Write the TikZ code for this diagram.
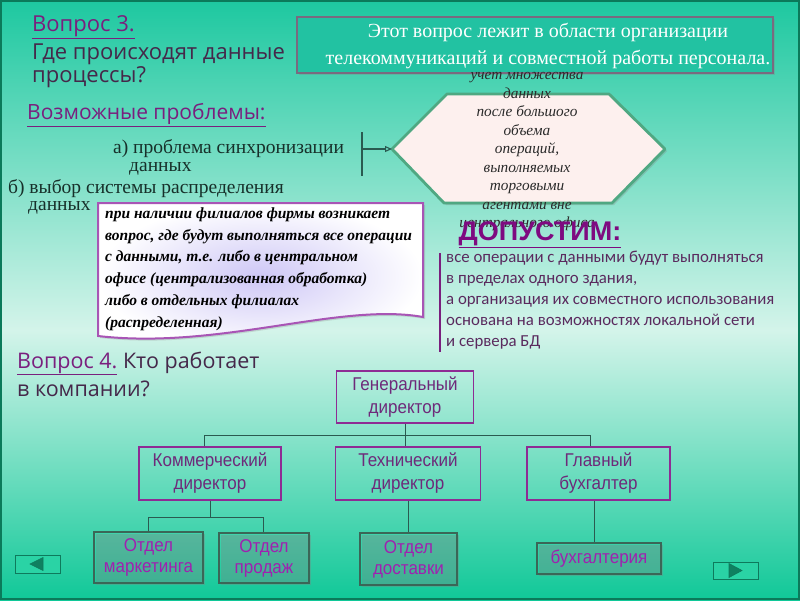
\documentclass[tikz,border=0pt]{standalone}
\usepackage{fontspec}
\setmainfont{Liberation Serif}
\newfontfamily\handfont{Open Sans}
\newfontfamily\calfont{Carlito}
\newfontfamily\narrowfont[FakeStretch=0.92]{Liberation Sans}
\newfontfamily\heavyfont{Liberation Sans}
\usetikzlibrary{arrows.meta,shadows}
\definecolor{bgtop}{HTML}{1DC8A0}
\definecolor{bgmid}{HTML}{D4F4EA}
\definecolor{bgbot}{HTML}{10C898}
\definecolor{framec}{HTML}{0B7A5A}
\definecolor{purp}{HTML}{7A1F7E}
\definecolor{dpurp}{HTML}{45284A}
\definecolor{darkt}{HTML}{17302A}
\definecolor{topfill}{HTML}{22C2A2}
\definecolor{topborder}{HTML}{7A6A80}
\definecolor{hexfill}{HTML}{FDF0EE}
\definecolor{hexborder}{HTML}{4FA882}
\definecolor{hextext}{HTML}{2A2A2A}
\definecolor{lav}{HTML}{CEC7F6}
\definecolor{docpurp}{HTML}{A855B5}
\definecolor{dopc}{HTML}{7E0A80}
\definecolor{rtext}{HTML}{5A2A5E}
\definecolor{orgpurp}{HTML}{8E2B94}
\definecolor{orgtext}{HTML}{6E2A7A}
\definecolor{depborder}{HTML}{3B6657}
\definecolor{deptext}{HTML}{A020B0}
\definecolor{connc}{HTML}{2A5A50}
\definecolor{navfill}{HTML}{2AD3A5}
\definecolor{navborder}{HTML}{0E7A5C}
\definecolor{navtri}{HTML}{0F8060}
\begin{document}
\begin{tikzpicture}[x=1pt,y=-1pt,
  conn/.style={draw=connc,line width=0.9pt},
  orgbox/.style={draw=orgpurp,line width=1.6pt,text=orgtext,font=\narrowfont\fontsize{18.5}{23}\selectfont,align=center,inner sep=0pt},
  depbox/.style={draw=depborder,line width=1.6pt,text=deptext,font=\narrowfont\fontsize{18.5}{21}\selectfont,align=center,inner sep=0pt,
     drop shadow={shadow xshift=1.5pt,shadow yshift=-1.5pt,opacity=0.35}},
  navbtn/.style={draw=navborder,fill=navfill,line width=1pt,minimum width=45pt,minimum height=18pt,inner sep=0pt},
  plain/.style={inner sep=0pt},
  probl/.style={plain,anchor=west,text=darkt,font=\fontsize{19.5}{18}\selectfont,align=left}
]
\useasboundingbox (0,0) rectangle (800,600);
% background
\shade[top color=bgtop,bottom color=bgmid] (0,0) rectangle (800,330.5);
\shade[top color=bgmid,bottom color=bgbot] (0,330) rectangle (800,600);
\draw[framec,line width=2pt] (1,1) rectangle (799,599);

% question 3
\node[plain,anchor=west,text=purp,font=\handfont\fontsize{22}{24}\selectfont] (q3) at (32,27) {\underline{Вопрос 3.}};
\node[plain,anchor=west,text=dpurp,font=\handfont\fontsize{22}{23}\selectfont,align=left] (q3b) at (32,66) {Где происходят данные\\процессы?};

% top box
\node[draw=topborder,fill=topfill,line width=1.5pt,minimum width=476pt,minimum height=56pt,
  drop shadow={shadow xshift=2pt,shadow yshift=-2pt,opacity=0.3}] (topbox) at (535,45) {};
\node[plain,text=white,font=\fontsize{20}{27}\selectfont,align=center] (toptxt) at (548,46) {Этот вопрос лежит в области организации\\телекоммуникаций и совместной работы персонала.};

% possible problems
\node[plain,anchor=west,text=purp,font=\handfont\fontsize{21}{24}\selectfont] (pp) at (27,115) {\underline{Возможные проблемы:}};
\node[probl] (pa) at (113,157) {а) проблема синхронизации\\\hspace*{16pt}данных};
\node[probl] (pb) at (8,189) {б) выбор системы распределения};
\node[probl] (pb2) at (28,208) {данных};

% hexagon
\coordinate (hexL) at (392,149);
\coordinate (hexTL) at (447,94);
\coordinate (hexTR) at (609,94);
\coordinate (hexR) at (665,149);
\coordinate (hexBR) at (612,203);
\coordinate (hexBL) at (444,203);
\draw[draw=hexborder,fill=hexfill,line width=2.8pt,line join=round,
  drop shadow={shadow xshift=2pt,shadow yshift=-2pt,opacity=0.3}]
  (hexL) -- (hexTL) -- (hexTR) -- (hexR) -- (hexBR) -- (hexBL) -- cycle;
\node[plain,text=hextext,font=\itshape\fontsize{15.3}{18.5}\selectfont,align=center] (hextxt) at (527,152)
  {учет множества\\данных\\после большого\\объема\\операций,\\выполняемых\\торговыми\\агентами вне\\центрального офиса};

% bracket
\coordinate (brT) at (362,132);
\coordinate (brB) at (362,176);
\coordinate (brM) at (362,149);
\draw[connc,line width=1.1pt] (brT) -- (brB);
\draw[connc,line width=1.1pt,-{Triangle[open,length=7pt,width=6pt]}] (brM) -- (hexL);

% document shape
\coordinate (dTL) at (98,203);
\coordinate (dTR) at (423,203);
\coordinate (dBR) at (423,317);
\coordinate (dBL) at (98,336);
\shadedraw[inner color=lav,outer color=white,draw=docpurp,line width=2pt,
  drop shadow={shadow xshift=2pt,shadow yshift=-2pt,opacity=0.25}]
  (dTL) -- (dTR) -- (dBR) .. controls (340,302) and (220,350) .. (dBL) -- cycle;
\draw[white,line width=0.5pt,opacity=0.7] (100,205) -- (421,205) -- (421,315);
\node[plain,anchor=west,text=black,font=\bfseries\itshape\fontsize{15.5}{21.8}\selectfont,align=left] (doctxt) at (105,269)
  {при наличии филиалов фирмы возникает\\вопрос, где будут выполняться все операции\\с данными, т.е. либо в центральном\\офисе (централизованная обработка)\\либо в отдельных филиалах\\(распределенная)};

% ДОПУСТИМ
\node[plain,text=dopc,font=\heavyfont\bfseries\fontsize{27}{30}\selectfont] (dop) at (540,235) {\underline{ДОПУСТИМ:}};
\coordinate (barT) at (440,253);
\coordinate (barB) at (440,352);
\draw[purp,line width=1.5pt] (barT) -- (barB);
\node[plain,anchor=west,text=rtext,font=\calfont\fontsize{16.8}{21}\selectfont,align=left] (rt) at (446,300)
  {все операции с данными будут выполняться\\в пределах одного здания,\\а организация их совместного использования\\основана на возможностях локальной сети\\и сервера БД};

% question 4
\node[plain,anchor=west,text=dpurp,font=\handfont\fontsize{21.5}{28}\selectfont,align=left] (q4) at (17,374)
  {{\color{purp}\underline{Вопрос 4.}} Кто работает\\в компании?};

% org chart
\node[orgbox,minimum width=137pt,minimum height=52pt] (gen) at (405,397) {Генеральный\\директор};
\node[orgbox,minimum width=142pt,minimum height=53pt] (kom) at (210,473.5) {Коммерческий\\директор};
\node[orgbox,minimum width=145pt,minimum height=53pt] (tech) at (408,473.5) {Технический\\директор};
\node[orgbox,minimum width=143pt,minimum height=53pt] (glav) at (598.5,473.5) {Главный\\бухгалтер};
\node[depbox,minimum width=109pt,minimum height=51pt] (mark) at (148.5,557.5) {Отдел\\маркетинга};
\node[depbox,minimum width=90pt,minimum height=50pt] (prod) at (264,558) {Отдел\\продаж};
\node[depbox,minimum width=97pt,minimum height=52pt] (dost) at (408.5,559) {Отдел\\доставки};
\node[depbox,minimum width=124pt,minimum height=31pt] (buh) at (599,558.5) {бухгалтерия};

\draw[conn] (gen.south) -- (gen.south |- tech.north);
\draw[conn] ([xshift=-6pt]kom.north) -- ++(0,-11) -| ([xshift=-8pt]glav.north);
\draw[conn] (kom.south) -- ++(0,17) coordinate (kj);
\draw[conn] (mark.north) |- (kj) -| ([xshift=-1pt]prod.north);
\draw[conn] (tech.south) -- (tech.south |- dost.north);
\draw[conn] ([xshift=-4pt]glav.south) -- ([xshift=-4pt]glav.south |- buh.north);

% nav buttons
\node[navbtn] (navL) at (37.5,564) {};
\fill[navtri,draw=navborder,line width=0.6pt] (30,564) -- (43,557.5) -- (43,570.5) -- cycle;
\node[navbtn,minimum height=17pt] (navR) at (735.5,570.5) {};
\fill[navtri,draw=navborder,line width=0.6pt] (742,570.5) -- (729,563.5) -- (729,577.5) -- cycle;
\end{tikzpicture}
\end{document}
